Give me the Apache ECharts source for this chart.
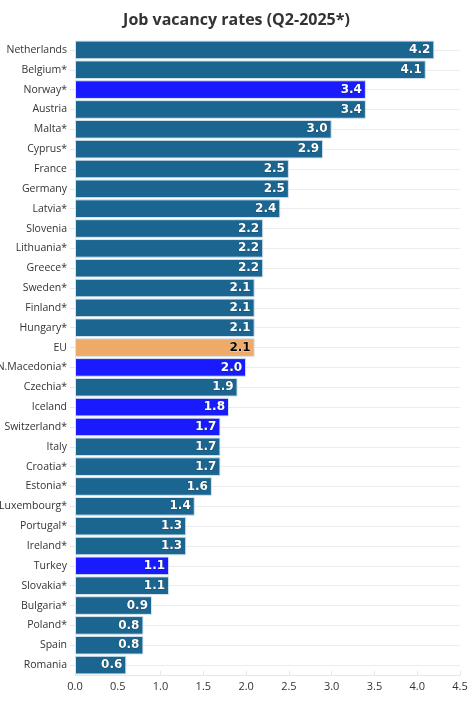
<!DOCTYPE html>
<html>
<head>
<meta charset="utf-8">
<script src="https://cdn.jsdelivr.net/npm/echarts@6/dist/echarts.min.js"></script>
<style>
html, body { margin: 0; padding: 0; background: #fff; }
#chart { width: 473px; height: 709px; }
</style>
</head>
<body>
<div id="chart"></div>
<script>
var countries = ['Netherlands', 'Belgium*', 'Norway*', 'Austria', 'Malta*', 'Cyprus*', 'France', 'Germany',
	'Latvia*', 'Slovenia', 'Lithuania*', 'Greece*', 'Sweden*', 'Finland*', 'Hungary*', 'EU',
	'N.Macedonia*', 'Czechia*', 'Iceland', 'Switzerland*', 'Italy', 'Croatia*', 'Estonia*', 'Luxembourg*',
	'Portugal*', 'Ireland*', 'Turkey', 'Slovakia*', 'Bulgaria*', 'Poland*', 'Spain', 'Romania'];
var rates = [4.2, 4.1, 3.4, 3.4, 3.0, 2.9, 2.5, 2.5,
	2.4, 2.2, 2.2, 2.2, 2.1, 2.1, 2.1, 2.1,
	2.0, 1.9, 1.8, 1.7, 1.7, 1.7, 1.6, 1.4,
	1.3, 1.3, 1.1, 1.1, 0.9, 0.8, 0.8, 0.6];
var nonEU = ['Norway*', 'N.Macedonia*', 'Iceland', 'Switzerland*', 'Turkey'];
var aggregate = ['EU'];

var font = '"Open Sans", sans-serif';

// colour each bar by its group
var barData = rates.map(function (v, i) {
	var name = countries[i];
	var color = '#1b6690';
	var label = { color: '#fff', textBorderColor: '#0d3550', textBorderWidth: 0.6 };
	if (nonEU.indexOf(name) >= 0) color = '#1a1aff';
	if (aggregate.indexOf(name) >= 0) {
		color = '#f0aa68';
		label = { color: '#000', textBorderColor: '#fff', textBorderWidth: 0.6 };
	}
	return { value: v, itemStyle: { color: color }, label: label };
});

var chart = echarts.init(document.getElementById('chart'));
chart.setOption({
	animation: false,
	title: {
		text: 'Job vacancy rates (Q2-2025*)',
		left: 'center',
		top: 7,
		textStyle: { fontFamily: font, fontSize: 16, fontWeight: 'bold', color: '#333' }
	},
	grid: { left: 75, right: 13, top: 40, bottom: 34, outerBoundsMode: 'none', containLabel: false },
	xAxis: {
		type: 'value',
		min: 0,
		max: 4.5,
		interval: 0.5,
		axisLine: { show: true, lineStyle: { color: '#e6e6e6' } },
		axisTick: { show: true, length: -4, lineStyle: { color: '#e6e6e6' } },
		splitLine: { show: false },
		axisLabel: {
			fontFamily: font, fontSize: 11, color: '#333', margin: 6,
			formatter: function (v) { return v.toFixed(1); }
		}
	},
	yAxis: [{
		type: 'category',
		data: countries,
		inverse: true,
		axisLine: { show: false },
		axisTick: { show: true, alignWithLabel: true, length: 5, lineStyle: { color: '#e6e6e6' } },
		axisLabel: { fontFamily: font, fontSize: 10.5, color: '#333', margin: 8 },
		splitLine: { show: false }
	}, {
		// grid lines through the centre of each row
		type: 'category',
		data: countries,
		inverse: true,
		position: 'left',
		axisLine: { show: false },
		axisLabel: { show: false },
		axisTick: { show: true, inside: true, alignWithLabel: true, length: 385, lineStyle: { color: '#ececec' } }
	}],
	series: [{
		type: 'bar',
		data: barData,
		barCategoryGap: '6%',
		itemStyle: { borderColor: '#d6e4ee', borderWidth: 1 },
		label: {
			show: true,
			position: 'insideRight',
			distance: 4,
			fontFamily: '"DejaVu Sans", sans-serif',
			fontSize: 12,
			fontWeight: 'bold',
			formatter: function (p) { return p.value.toFixed(1); }
		}
	}]
});
</script>
</body>
</html>
